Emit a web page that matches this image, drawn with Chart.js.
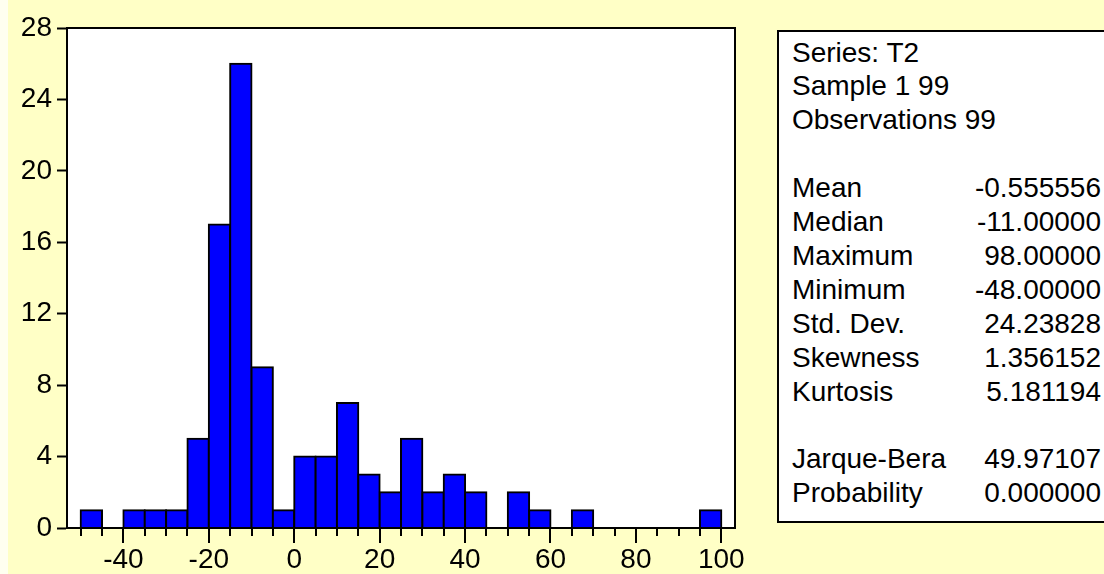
<!DOCTYPE html>
<html><head><meta charset="utf-8">
<script src="https://cdn.jsdelivr.net/npm/chart.js@4/dist/chart.umd.min.js"></script>
<style>
html,body{margin:0;padding:0;background:#FFFFC6;overflow:hidden}
#wrap{position:relative;width:1104px;height:574px;overflow:hidden}
#c{position:absolute;left:0;top:0}
#edge{position:absolute;left:0;top:0;width:8px;height:574px;background:#FFFFF0}
#box{position:absolute;left:777px;top:30px;width:400px;height:493px;box-sizing:border-box;border:2px solid #000;background:#fff}
.t{position:absolute;font-family:"Liberation Sans",Arial,sans-serif;font-size:28px;line-height:34px;height:34px;color:#000;white-space:nowrap}
.l{left:792px}
.v{right:3px;text-align:right}
</style></head>
<body>
<div id="wrap">
<canvas id="c" width="1104" height="574"></canvas>
<div id="edge"></div>
<div id="box"></div>
<div id="stats"></div>
</div>
<script>
// ---- data ----
const binEdgesStart = [-50,-45,-40,-35,-30,-25,-20,-15,-10,-5,0,5,10,15,20,25,30,35,40,45,50,55,60,65,70,75,80,85,90,95];
const binWidth = 5;
const counts = [1,0,1,1,1,5,17,26,9,1,4,4,7,3,2,5,2,3,2,0,2,1,0,1,0,0,0,0,0,1];
const yTicks = [0,4,8,12,16,20,24,28];
const xLabelEvery = 20;
const headerLines = ["Series: T2","Sample 1 99","Observations 99"];
const statNames = ["Mean","Median","Maximum","Minimum","Std. Dev.","Skewness","Kurtosis"];
const statValues = ["-0.555556","-11.00000","98.00000","-48.00000","24.23828","1.356152","5.181194"];
const testNames = ["Jarque-Bera","Probability"];
const testValues = ["49.97107","0.000000"];

// ---- stats panel text ----
const stats = document.getElementById('stats');
const rows = [];
headerLines.forEach(s => rows.push([s, '']));
rows.push(null);
statNames.forEach((s,i) => rows.push([s, statValues[i]]));
rows.push(null);
testNames.forEach((s,i) => rows.push([s, testValues[i]]));
rows.forEach((r,i) => {
  if (!r) return;
  const top = (52.5 + 33.9*i - 17.0).toFixed(1) + 'px';
  const a = document.createElement('div'); a.className='t l'; a.style.top=top; a.textContent=r[0]; stats.appendChild(a);
  if (r[1]) { const b = document.createElement('div'); b.className='t v'; b.style.top=top; b.textContent=r[1]; stats.appendChild(b); }
});

// ---- chart ----
const FONT = {family:"'Liberation Sans', Arial, sans-serif", size:28};
const framePlugin = {
  id:'frame',
  beforeDraw(chart){
    const {ctx, chartArea:a} = chart;
    ctx.save(); ctx.fillStyle='#fff'; ctx.fillRect(a.left,a.top,a.width,a.height); ctx.restore();
  },
  afterDatasetsDraw(chart){
    const {ctx, chartArea:a, scales:{x}} = chart;
    ctx.save();
    ctx.strokeStyle='#000'; ctx.lineWidth=2;
    ctx.strokeRect(a.left, a.top, a.width, a.height);
    ctx.beginPath();
    x.ticks.forEach(t => {
      const px = Math.round(x.getPixelForValue(t.value));
      const len = (t.value % xLabelEvery === 0) ? 15 : 8;
      ctx.moveTo(px, a.bottom); ctx.lineTo(px, a.bottom + len);
    });
    ctx.stroke();
    ctx.restore();
  }
};

new Chart(document.getElementById('c'), {
  type:'bar',
  data:{
    datasets:[{
      data: binEdgesStart.map((s,i) => ({x: s + binWidth/2, y: counts[i] || null})),
      backgroundColor:'#0000FF',
      borderColor:'#000',
      borderWidth:2,
      inflateAmount:1,
      barPercentage:1,
      categoryPercentage:1
    }]
  },
  options:{
    responsive:false,
    animation:false,
    events:[],
    layout:{padding:{left:0, top:28, right:369, bottom:0}},
    plugins:{legend:{display:false}, tooltip:{enabled:false}},
    scales:{
      x:{
        type:'linear',
        offset:false,
        min:-53.2, max:103.2,
        grid:{display:false, drawTicks:false},
        border:{display:false},
        afterFit: s => { s.height = 46; },
        ticks:{
          stepSize:binWidth, includeBounds:false, autoSkip:false, maxRotation:0, maxTicksLimit:100,
          padding:15, color:'#000', font:FONT,
          callback: v => (v % xLabelEvery === 0) ? String(v) : ''
        }
      },
      y:{
        min:yTicks[0], max:yTicks[yTicks.length-1],
        afterFit: s => { s.width = 67; },
        afterBuildTicks: s => { s.ticks = yTicks.map(v => ({value:v})); },
        grid:{drawOnChartArea:false, drawTicks:true, tickLength:10, tickWidth:2, color:'#000'},
        border:{display:true, color:'#000', width:2},
        ticks:{padding:5, color:'#000', font:FONT}
      }
    }
  },
  plugins:[framePlugin]
});
</script>
</body></html>
